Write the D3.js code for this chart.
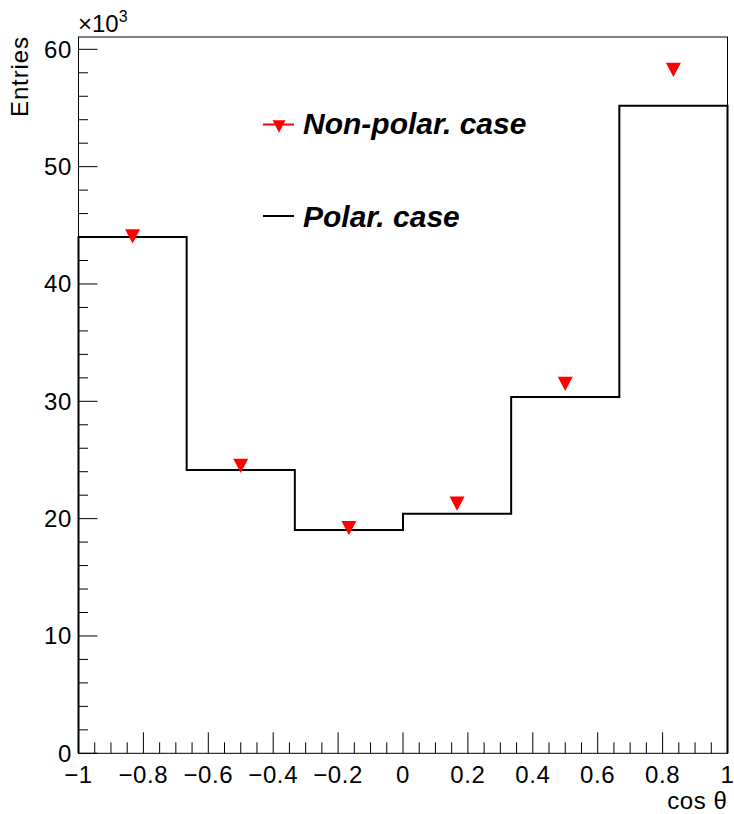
<!DOCTYPE html>
<html>
<head>
<meta charset="utf-8">
<script src="https://cdn.jsdelivr.net/npm/d3@7"></script>
<style>
  html, body { margin: 0; padding: 0; background: #fff; }
  svg { display: block; }
  text { font-family: "Liberation Sans", Arial, Helvetica, sans-serif; fill: #000; }
</style>
</head>
<body>
<div id="chart"></div>
<script>
// Bin edges of cos(theta) and contents (in units of 10^3 entries)
const binEdges = [-1, -2/3, -1/3, 0, 1/3, 2/3, 1];
const polarValues = [44.0, 24.15, 19.03, 20.42, 30.37, 55.18];
const nonPolarValues = [44.06, 24.49, 19.2, 21.27, 31.48, 58.25];
const xTickValues = [-1, -0.8, -0.6, -0.4, -0.2, 0, 0.2, 0.4, 0.6, 0.8, 1];
const yTickValues = [0, 10, 20, 30, 40, 50, 60];
const legendLabels = ["Non-polar. case", "Polar. case"];

const width = 734, height = 814;
const frame = { left: 78.5, right: 727.5, top: 37, bottom: 753.3 };

const svg = d3.select("#chart").append("svg")
  .attr("width", width).attr("height", height);

const x = d3.scaleLinear().domain([-1, 1]).range([frame.left, frame.right]);
const y = d3.scaleLinear().domain([0, 61.05]).range([frame.bottom, frame.top]);

// Frame
svg.append("rect")
  .attr("x", frame.left).attr("y", frame.top)
  .attr("width", frame.right - frame.left).attr("height", frame.bottom - frame.top)
  .attr("fill", "none").attr("stroke", "#000").attr("stroke-width", 1);

// X axis ticks: majors every 0.2, minors every 0.05
const xMinor = d3.range(-1, 1.0001, 0.05).map(v => +v.toFixed(4));
svg.append("g").selectAll("line").data(xMinor).join("line")
  .attr("x1", d => x(d)).attr("x2", d => x(d))
  .attr("y1", frame.bottom)
  .attr("y2", d => frame.bottom - (xTickValues.some(t => Math.abs(t - d) < 1e-6) ? 21 : 11))
  .attr("stroke", "#000").attr("stroke-width", 1);

const fmt = v => (v < 0 ? "\u2212" : "") + Math.abs(v).toString();
svg.append("g").selectAll("text").data(xTickValues).join("text")
  .attr("x", d => x(d)).attr("y", 782.5)
  .attr("text-anchor", "middle")
  .attr("font-size", 24)
  .attr("letter-spacing", 0.6)
  .text(d => d === 0 ? "0" : fmt(d));

// Y axis ticks: majors every 10, minors every 2
const yMinor = d3.range(0, 61, 2);
svg.append("g").selectAll("line").data(yMinor).join("line")
  .attr("x1", frame.left)
  .attr("x2", d => frame.left + (d % 10 === 0 ? 19 : 9.5))
  .attr("y1", d => y(d)).attr("y2", d => y(d))
  .attr("stroke", "#000").attr("stroke-width", 1);

svg.append("g").selectAll("text").data(yTickValues).join("text")
  .attr("x", 72).attr("y", d => y(d) + 8.5)
  .attr("text-anchor", "end")
  .attr("font-size", 24)
  .attr("letter-spacing", 0.6)
  .text(d => d);

// Exponent label
const expo = svg.append("text").attr("x", 78).attr("y", 32).attr("font-size", 24);
expo.append("tspan").text("\u00d710");
expo.append("tspan").attr("dy", -10).attr("font-size", 16).text("3");

// Axis titles
svg.append("text")
  .attr("transform", `translate(28, ${frame.top}) rotate(-90)`)
  .attr("text-anchor", "end")
  .attr("font-size", 24)
  .attr("textLength", 80)
  .attr("lengthAdjust", "spacing")
  .text("Entries");

svg.append("text")
  .attr("x", frame.right).attr("y", 808.5)
  .attr("text-anchor", "end")
  .attr("font-size", 24)
  .attr("letter-spacing", 0.6)
  .text("cos \u03b8");

// Polar case: step histogram
const bins = polarValues.map((v, i) => ({ x0: binEdges[i], x1: binEdges[i + 1], v }));
const stepPts = [];
bins.forEach(b => {
  stepPts.push([b.x0, b.v]);
  stepPts.push([b.x1, b.v]);
});
svg.append("path")
  .datum([[binEdges[0], 0], ...stepPts, [binEdges[binEdges.length - 1], 0]])
  .attr("d", d3.line().x(d => x(d[0])).y(d => y(d[1])))
  .attr("fill", "none").attr("stroke", "#000").attr("stroke-width", 2);

// Non-polar case: down-pointing triangle markers at bin centres
const tri = (cx, cy, s) => {
  const h = s * 0.95;
  return `M${cx - s / 2},${cy - h / 2}L${cx + s / 2},${cy - h / 2}L${cx},${cy + h / 2}Z`;
};
const centers = nonPolarValues.map((v, i) => ({ c: (binEdges[i] + binEdges[i + 1]) / 2, v }));
svg.append("g").selectAll("path").data(centers).join("path")
  .attr("d", d => tri(x(d.c), y(d.v), 15))
  .attr("fill", "#ff0000");

// Legend
const lg = svg.append("g");
lg.append("line")
  .attr("x1", 263).attr("x2", 294).attr("y1", 124.5).attr("y2", 124.5)
  .attr("stroke", "#ff0000").attr("stroke-width", 2);
lg.append("path").attr("d", tri(279, 126.5, 13)).attr("fill", "#ff0000");
lg.append("line")
  .attr("x1", 263).attr("x2", 294).attr("y1", 216).attr("y2", 216)
  .attr("stroke", "#000").attr("stroke-width", 2);
lg.selectAll("text").data(legendLabels).join("text")
  .attr("x", 303).attr("y", (d, i) => i === 0 ? 134 : 227)
  .attr("font-size", 30)
  .attr("font-weight", "bold")
  .attr("font-style", "italic")
  .text(d => d);
</script>
</body>
</html>
